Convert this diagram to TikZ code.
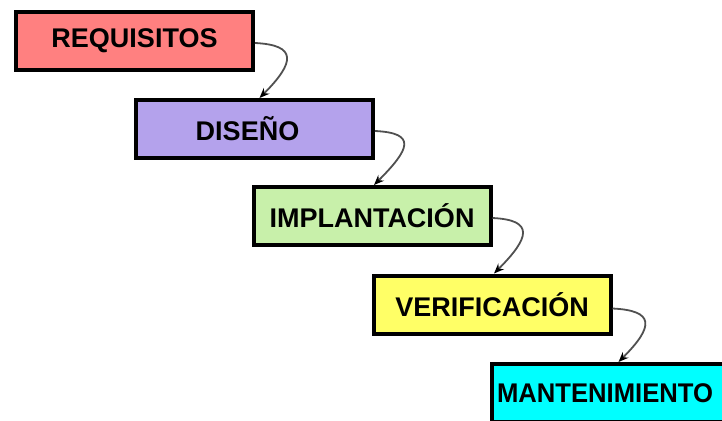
\documentclass[tikz,border=0pt]{standalone}
\usepackage{fontspec}
\setmainfont{Liberation Sans}
\usetikzlibrary{arrows.meta,shadows}
\definecolor{cReq}{HTML}{FF8080}
\definecolor{cDis}{HTML}{B4A2EC}
\definecolor{cImp}{HTML}{C8F0AA}
\definecolor{cVer}{HTML}{FFFF66}
\definecolor{cMan}{HTML}{00FFFF}
\definecolor{cLink}{HTML}{505050}
\tikzset{
  stage/.style={draw=black, line width=4pt, minimum width=237pt, minimum height=58pt,
    inner sep=5pt, font=\fontsize{27}{30}\selectfont\bfseries,
    drop shadow={opacity=0.25, shadow xshift=2pt, shadow yshift=-2pt}},
  link/.style={draw=cLink, line width=1.8pt, -{Stealth[length=10pt,width=8pt,color=black]}}
}
\begin{document}
\begin{tikzpicture}[x=1pt,y=-1pt]
\useasboundingbox (0,0) rectangle (722,420);
\clip (0,0) rectangle (722,420);
\node[stage, fill=cReq] (req) at (134.5,41) {REQUISITOS};
\node[stage, fill=cDis] (dis) at (254.5,129) {\hspace*{-14pt}DISEÑO};
\node[stage, fill=cImp] (imp) at (372,216) {IMPLANTACIÓN};
\node[stage, fill=cVer] (ver) at (492,304.5) {VERIFICACIÓN};
\node[stage, fill=cMan] (man) at (610.5,393) {\makebox[227pt][l]{\scalebox{0.95}[1]{MANTENIMIENTO}}};
\coordinate (r1) at ([yshift=-2pt]req.east);
\coordinate (r2) at ([yshift=-2pt]dis.east);
\coordinate (r3) at ([yshift=-2pt]imp.east);
\coordinate (r4) at ([yshift=-4pt]ver.east);
\draw[link] (r1) .. controls +(42,2) and +(36,-36) .. ([xshift=5pt]dis.north);
\draw[link] (r2) .. controls +(42,2) and +(36,-36) .. ([xshift=2pt]imp.north);
\draw[link] (r3) .. controls +(42,2) and +(36,-36) .. ([xshift=2pt]ver.north);
\draw[link] (r4) .. controls +(42,2) and +(36,-36) .. ([xshift=8pt]man.north);
\end{tikzpicture}
\end{document}
